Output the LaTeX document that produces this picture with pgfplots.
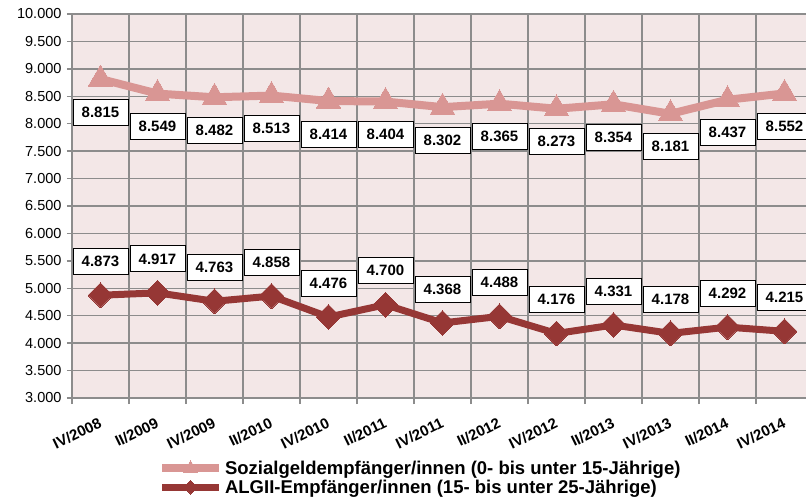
\documentclass[border=0pt]{standalone}
\usepackage{pgfplots}
\pgfplotsset{compat=1.18}
\usepackage{fontspec}
\setmainfont{Liberation Sans}
\definecolor{bgc}{RGB}{243,231,231}
\definecolor{gridc}{RGB}{140,140,140}
\definecolor{sone}{RGB}{217,150,148}
\definecolor{stwo}{RGB}{150,55,53}
\pgfkeys{/pgf/number format/.cd,fixed,precision=0,1000 sep={.},assume math mode=true}
\begin{document}
\begin{tikzpicture}[x=1pt,y=1pt]
\useasboundingbox (-72,-103) rectangle (734,398);
\begin{axis}[
  at={(0,0)}, anchor=south west,
  scale only axis, width=734pt, height=384pt,
  xmin=-0.5, xmax=12.377, ymin=3000, ymax=10000,
  ytick={3000,3500,...,10000},
  scaled y ticks=false,
  yticklabel style={font=\fontsize{14.5}{17}\selectfont, xshift=-2pt,
    /pgf/number format/.cd, fixed, precision=0, 1000 sep={.}, assume math mode=true},
  xtick={0,...,12},
  xticklabels={IV/2008,II/2009,IV/2009,II/2010,IV/2010,II/2011,IV/2011,II/2012,IV/2012,II/2013,IV/2013,II/2014,IV/2014},
  xticklabel style={font=\bfseries\fontsize{15}{17}\selectfont, rotate=26, anchor=north east, yshift=-8pt, xshift=-5pt},
  minor xtick={-0.5,0.5,...,12.5},
  major x tick style={draw=none},
  xminorgrids=true, ymajorgrids=true,
  grid style={gridc, line width=1.3pt},
  minor grid style={gridc, line width=1.3pt},
  axis background/.style={fill=bgc},
  axis x line*=bottom, axis y line*=left,
  axis line style={-, gridc, line width=1.3pt},
  tick align=outside,
  tick style={gridc, line width=1.3pt},
  major tick length=5pt, minor tick length=6pt,
  clip=false,
  legend style={at={(axis description cs:0.117,-0.158)}, anchor=north west, draw=none, fill=none,
    inner sep=0pt, font=\bfseries\fontsize{18.5}{20}\selectfont, row sep=0pt},
  legend cell align=left,
  legend image code/.code={\draw[mark repeat=2,mark phase=2,#1,every mark/.append style={scale=0.55}] plot coordinates {(0pt,0pt) (28.5pt,0pt) (57pt,0pt)};},
  nodes near coords,
  every node near coord/.append style={anchor=center, draw=black, fill=white, text=black, line width=0.8pt,
    minimum width=55pt, minimum height=26pt, inner sep=2pt, font=\bfseries\fontsize{15}{18}\selectfont},
]
\addplot[color=sone, line width=8pt, mark=triangle*, mark size=14pt, mark options={solid, line width=0pt},
  every node near coord/.append style={yshift=-33pt}]
  coordinates {(0,8815) (1,8549) (2,8482) (3,8513) (4,8414) (5,8404) (6,8302) (7,8365) (8,8273) (9,8354) (10,8181) (11,8437) (12,8552)};
\addlegendentry{Sozialgeldempfänger/innen (0- bis unter 15-Jährige)}
\addplot[color=stwo, line width=7pt, mark=square*, mark size=8.8pt, mark options={solid, rotate=45, line width=0pt},
  every node near coord/.append style={yshift=34pt}]
  coordinates {(0,4873) (1,4917) (2,4763) (3,4858) (4,4476) (5,4700) (6,4368) (7,4488) (8,4176) (9,4331) (10,4178) (11,4292) (12,4215)};
\addlegendentry{ALGII-Empfänger/innen (15- bis unter 25-Jährige)}
\end{axis}
\end{tikzpicture}
\end{document}
